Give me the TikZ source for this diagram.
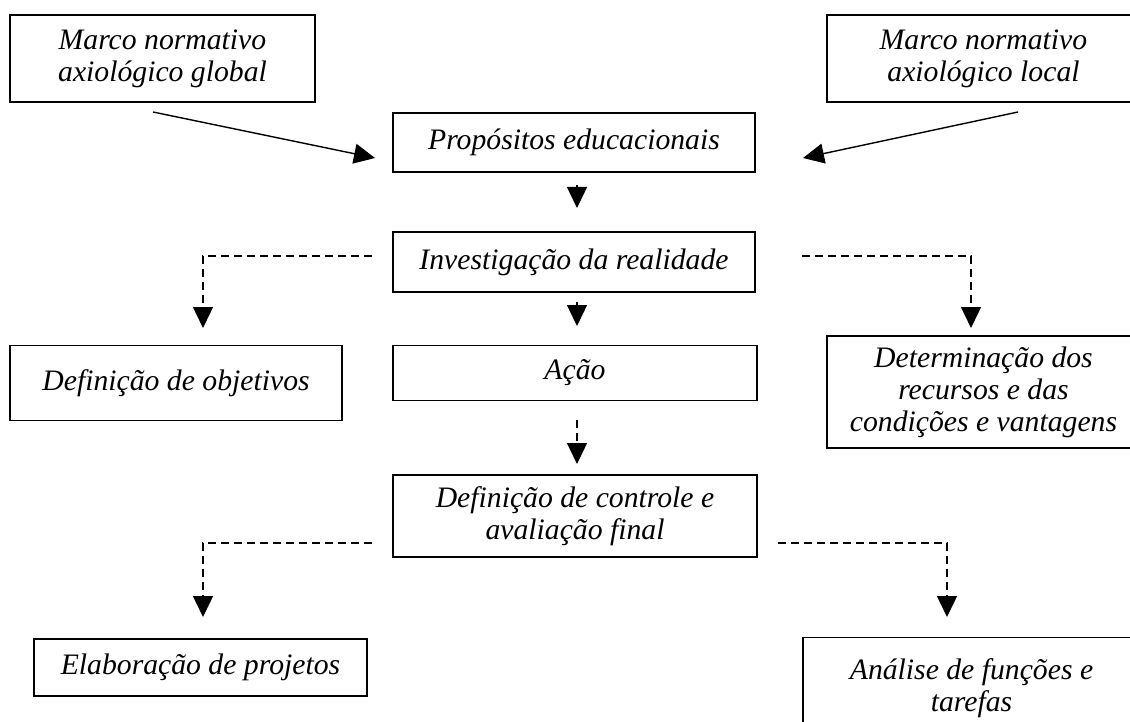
\documentclass[tikz,border=0pt]{standalone}
\usepackage{fontspec}
\setmainfont{Liberation Serif}
\usetikzlibrary{arrows.meta}
\begin{document}
\begin{tikzpicture}[x=1pt,y=-1pt,
  box/.style={draw, line width=1.5pt, inner sep=0pt, align=center,
    font=\itshape\fontsize{29.7}{32}\selectfont},
  conn/.style={line width=1.4pt, -{Triangle[length=21pt,width=20pt]}},
  dconn/.style={conn, dash pattern=on 8pt off 5pt}]
\useasboundingbox (0,0) rectangle (1130,722);
\clip (0,0) rectangle (1130,722);
\fill[white] (0,0) rectangle (1130,722);

% boxes
\node[box, minimum width=305pt, minimum height=87pt] (G) at (162.5,58.5) {Marco normativo\\axiológico global};
\node[box, minimum width=313pt, minimum height=87pt] (L) at (983.5,58.5) {Marco normativo\\axiológico local};
\node[box, minimum width=362pt, minimum height=59pt] (P) at (574,142.5) {Propósitos educacionais};
\node[box, minimum width=362pt, minimum height=60pt] (I) at (574,262) {Investigação da realidade};
\node[box, minimum width=332pt, minimum height=75pt] (DO) at (176,383) {Definição de objetivos};
\node[box, minimum width=364pt, minimum height=55pt] (A) at (575,373) {Ação};
\node[box, minimum width=313pt, minimum height=112pt] (DR) at (983.5,392) {Determinação dos\\recursos e das\\condições e vantagens};
\node[box, minimum width=364pt, minimum height=82pt] (C) at (575,516) {Definição de controle e\\avaliação final};
\node[box, minimum width=333pt, minimum height=57pt] (E) at (200.5,667.5) {Elaboração de projetos};
\node[box, minimum width=337pt, minimum height=101pt] (F) at (971.5,688) {Análise de funções e\\tarefas};

% connector end points
\coordinate (g1) at (153,112);  \coordinate (g2) at (375,158);
\coordinate (l1) at (1018,112); \coordinate (l2) at (803,158);
\coordinate (p1) at (577,185);  \coordinate (p2) at (577,208);
\coordinate (i1) at (577,302);  \coordinate (i2) at (577,326);
\coordinate (il) at (372,256);  \coordinate (ilt) at (203,328);
\coordinate (ir) at (802,256);  \coordinate (irt) at (971,328);
\coordinate (a1) at (577,420);  \coordinate (a2) at (577,464);
\coordinate (cl) at (372,543);  \coordinate (clt) at (203,617);
\coordinate (cr) at (778,543);  \coordinate (crt) at (947,617);

% connectors
\draw[conn] (g1) -- (g2);
\draw[conn] (l1) -- (l2);
\draw[conn] (p1) -- (p2);
\draw[conn] (i1) -- (i2);
\draw[dconn] (il) -| (ilt);
\draw[dconn] (ir) -| (irt);
\draw[dconn] (a1) -- (a2);
\draw[dconn] (cl) -| (clt);
\draw[dconn] (cr) -| (crt);
\end{tikzpicture}
\end{document}
